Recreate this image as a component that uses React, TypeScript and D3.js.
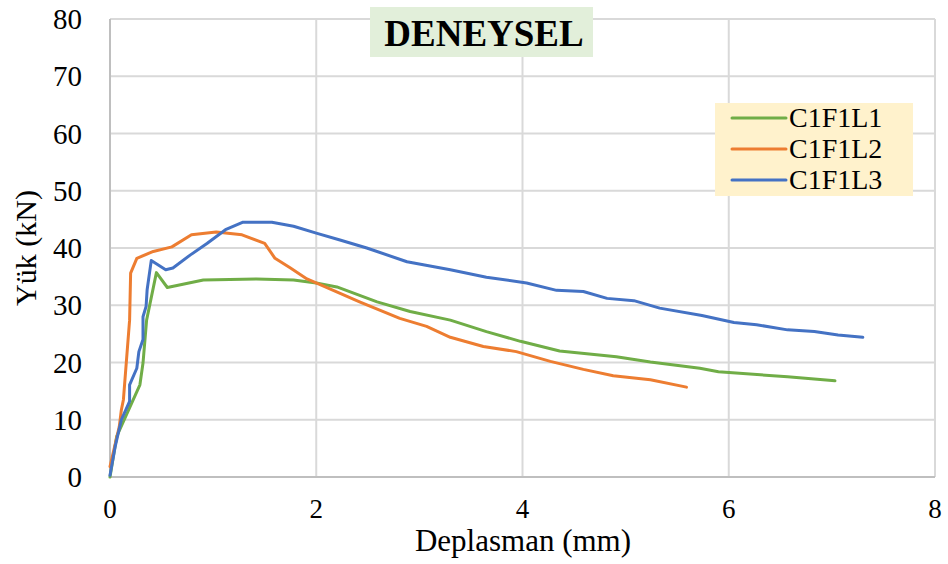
import React from "react";
import * as d3 from "d3";

const seriesNames = ["C1F1L1", "C1F1L2", "C1F1L3"];
const seriesColors = ["#70ad47", "#ed7d31", "#4472c4"];

const c1f1l1: [number, number][] = [
  [0, 0], [0.065, 7.1], [0.29, 16.1], [0.32, 19.9], [0.355, 27.4], [0.45, 35.7],
  [0.556, 33.1], [0.905, 34.4], [1.42, 34.6], [1.78, 34.4], [2.0, 33.9], [2.2, 33.2],
  [2.59, 30.6], [2.91, 28.9], [3.3, 27.4], [3.65, 25.4], [3.98, 23.7], [4.36, 22.0],
  [4.91, 21.0], [5.24, 20.1], [5.72, 19.0], [5.9, 18.4], [6.57, 17.5], [7.03, 16.8],
];
const c1f1l2: [number, number][] = [
  [0, 1.8], [0.09, 8.8], [0.11, 11.7], [0.13, 13.5], [0.19, 27.4], [0.2, 35.6],
  [0.26, 38.2], [0.42, 39.4], [0.6, 40.2], [0.79, 42.3], [1.03, 42.8], [1.28, 42.3],
  [1.5, 40.8], [1.6, 38.2], [1.75, 36.5], [1.91, 34.6], [2.42, 30.6], [2.81, 27.7],
  [3.07, 26.3], [3.3, 24.4], [3.62, 22.8], [3.94, 21.9], [4.27, 20.2], [4.59, 18.8],
  [4.88, 17.7], [5.24, 17.0], [5.59, 15.7],
];
const c1f1l3: [number, number][] = [
  [0, 0.3], [0.05, 5.3], [0.11, 10], [0.19, 13.2], [0.19, 16.1], [0.26, 19.0],
  [0.28, 21.9], [0.32, 24.0], [0.32, 28.0], [0.35, 29.8], [0.36, 32.7], [0.4, 37.8],
  [0.54, 36.2], [0.61, 36.5], [0.78, 38.8], [0.94, 40.8], [1.12, 43.2], [1.29, 44.5],
  [1.57, 44.5], [1.78, 43.8], [2.0, 42.6], [2.23, 41.4], [2.49, 40.0], [2.88, 37.6],
  [3.3, 36.2], [3.65, 34.9], [4.04, 33.9], [4.33, 32.6], [4.59, 32.4], [4.82, 31.2],
  [5.08, 30.8], [5.33, 29.5], [5.74, 28.2], [6.05, 27.0], [6.27, 26.6], [6.57, 25.7],
  [6.83, 25.4], [7.06, 24.8], [7.3, 24.4],
];
const allSeries = [c1f1l1, c1f1l2, c1f1l3];

const xTicks = [0, 2, 4, 6, 8];
const yTicks = [0, 10, 20, 30, 40, 50, 60, 70, 80];

const titleText = "DENEYSEL";
const xTitle = "Deplasman (mm)";
const yTitle = "Yük (kN)";

export default function App() {
  const W = 948, H = 564;
  const x = d3.scaleLinear().domain([0, 8]).range([110, 935]);
  const y = d3.scaleLinear().domain([0, 80]).range([477, 19]);
  const line = d3.line<[number, number]>().x(d => x(d[0])).y(d => y(d[1]));
  const font = "'Liberation Serif', 'Times New Roman', serif";
  return (
    <svg width={W} height={H} style={{ position: "absolute", left: 0, top: 0, background: "#fff" }}>
      <rect width={W} height={H} fill="#fff" />
      {yTicks.map(t => (
        <line key={"gy" + t} x1={x(0)} x2={x(8)} y1={y(t)} y2={y(t)} stroke="#d9d9d9" strokeWidth={2} />
      ))}
      {xTicks.map(t => (
        <line key={"gx" + t} x1={x(t)} x2={x(t)} y1={y(0)} y2={y(80)} stroke="#d9d9d9" strokeWidth={2} />
      ))}
      <line x1={x(0)} x2={x(0)} y1={y(0)} y2={y(80)} stroke="#bfbfbf" strokeWidth={2} />
      <line x1={x(0)} x2={x(8)} y1={y(0)} y2={y(0)} stroke="#bfbfbf" strokeWidth={2} />
      {yTicks.map(t => (
        <text key={"ty" + t} x={82} y={y(t)} dy="0.35em" textAnchor="end" fontFamily={font} fontSize={29} fill="#000">{t}</text>
      ))}
      {xTicks.map(t => (
        <text key={"tx" + t} x={x(t)} y={518} textAnchor="middle" fontFamily={font} fontSize={27} fill="#000">{t}</text>
      ))}
      <text x={523} y={551} textAnchor="middle" fontFamily={font} fontSize={31} fill="#000">{xTitle}</text>
      <text transform={`translate(36,248) rotate(-90)`} textAnchor="middle" fontFamily={font} fontSize={30} fill="#000">{yTitle}</text>
      {allSeries.map((s, i) => (
        <path key={"s" + i} d={line(s) || ""} fill="none" stroke={seriesColors[i]} strokeWidth={3} strokeLinejoin="round" strokeLinecap="round" />
      ))}
      <rect x={370} y={7} width={223} height={50} fill="#e2efda" />
      <text x={484} y={46} textAnchor="middle" fontFamily={font} fontSize={37} fontWeight="bold" fill="#000">{titleText}</text>
      <rect x={715} y={103} width={198} height={93} fill="#fff2cc" />
      {seriesNames.map((n, i) => (
        <g key={"l" + i}>
          <line x1={732} x2={786} y1={118 + i * 31} y2={118 + i * 31} stroke={seriesColors[i]} strokeWidth={3} strokeLinecap="round" />
          <text x={789} y={127 + i * 31} fontFamily={font} fontSize={28} fill="#000">{n}</text>
        </g>
      ))}
    </svg>
  );
}
